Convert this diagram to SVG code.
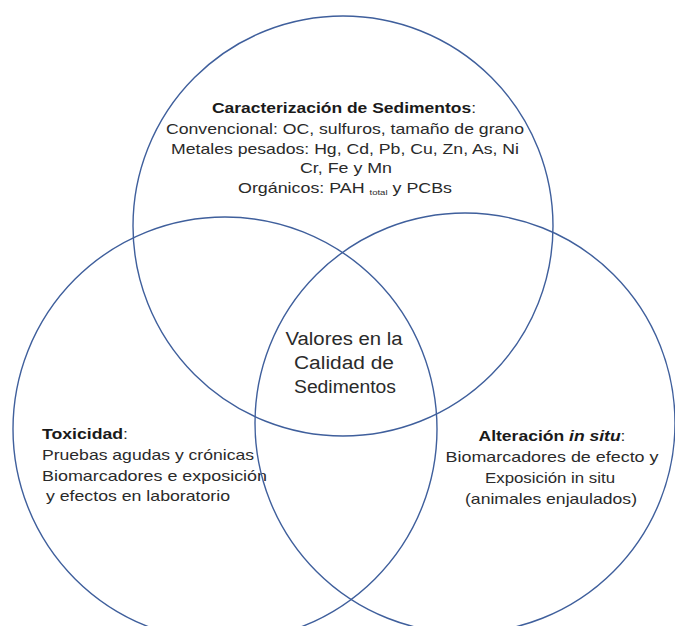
<svg xmlns="http://www.w3.org/2000/svg" width="675" height="626" viewBox="0 0 675 626">
<style>
.c{fill:none;stroke:#3f5f9c;stroke-width:1.4}
text{font-family:"Liberation Sans",Arial,sans-serif;fill:#2a2a2a;font-size:15px}
.b{font-weight:bold;fill:#1a1a1a}
.m{text-anchor:middle}
.v{font-size:18px}
</style>
<rect width="675" height="626" fill="#fff"/>
<g id="connectors"></g>
<g id="top">
<circle class="c" cx="343" cy="226" r="210"/>
<text class="m" x="344" y="113" textLength="264" lengthAdjust="spacingAndGlyphs"><tspan class="b">Caracterización de Sedimentos</tspan>:</text>
<text class="m" x="345" y="134" textLength="358" lengthAdjust="spacingAndGlyphs">Convencional: OC, sulfuros, tamaño de grano</text>
<text class="m" x="345" y="154" textLength="348" lengthAdjust="spacingAndGlyphs">Metales pesados: Hg, Cd, Pb, Cu, Zn, As, Ni</text>
<text class="m" x="346" y="173" textLength="92" lengthAdjust="spacingAndGlyphs">Cr, Fe y Mn</text>
<text class="m" x="345" y="193" textLength="214" lengthAdjust="spacingAndGlyphs">Orgánicos: PAH <tspan font-size="8" dy="2">total</tspan><tspan dy="-2"> y PCBs</tspan></text>
</g>
<g id="left">
<circle class="c" cx="225" cy="429" r="212"/>
<text x="42" y="439" textLength="86" lengthAdjust="spacingAndGlyphs"><tspan class="b">Toxicidad</tspan>:</text>
<text x="42" y="460" textLength="212" lengthAdjust="spacingAndGlyphs">Pruebas agudas y crónicas</text>
<text x="42" y="481" textLength="225" lengthAdjust="spacingAndGlyphs">Biomarcadores e exposición</text>
<text x="46" y="501" textLength="184" lengthAdjust="spacingAndGlyphs">y efectos en laboratorio</text>
</g>
<g id="right">
<circle class="c" cx="465" cy="423" r="210"/>
<text class="m" x="552" y="441" textLength="147" lengthAdjust="spacingAndGlyphs"><tspan class="b">Alteración <tspan font-style="italic">in situ</tspan></tspan>:</text>
<text class="m" x="552" y="462" textLength="213" lengthAdjust="spacingAndGlyphs">Biomarcadores de efecto y</text>
<text class="m" x="550" y="483" textLength="130" lengthAdjust="spacingAndGlyphs">Exposición in situ</text>
<text class="m" x="551" y="504" textLength="172" lengthAdjust="spacingAndGlyphs">(animales enjaulados)</text>
</g>
<g id="center">
<text class="m v" x="344" y="345" textLength="117" lengthAdjust="spacingAndGlyphs">Valores en la</text>
<text class="m v" x="344" y="369" textLength="100" lengthAdjust="spacingAndGlyphs">Calidad de</text>
<text class="m v" x="345" y="393" textLength="102" lengthAdjust="spacingAndGlyphs">Sedimentos</text>
</g>
</svg>
